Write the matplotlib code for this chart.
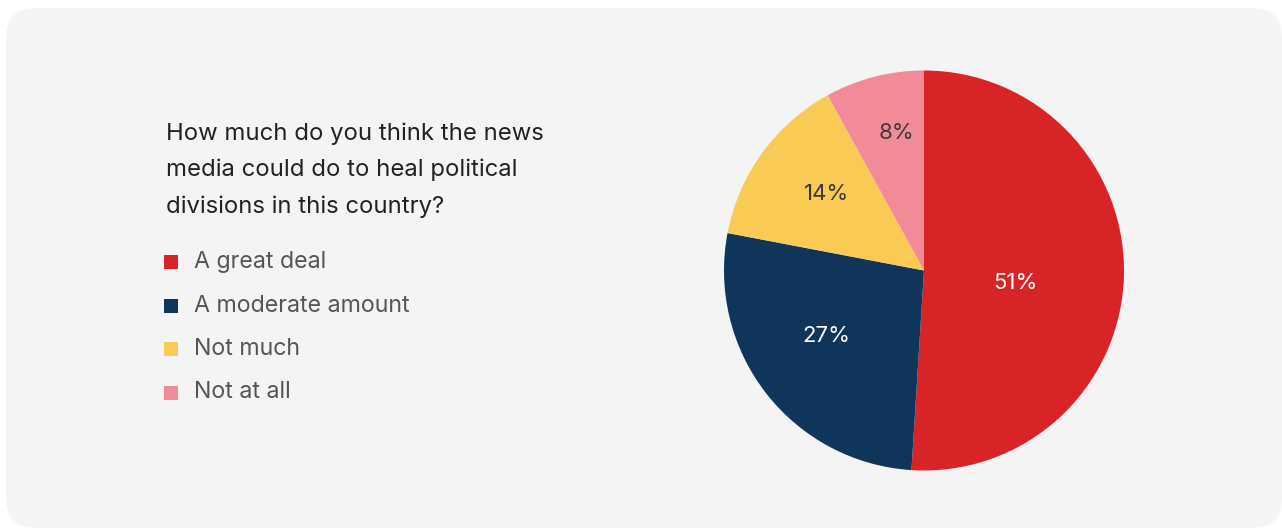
import numpy as np
import matplotlib.pyplot as plt
from matplotlib.patches import FancyBboxPatch, Rectangle

plt.rcParams['font.family'] = ['Inter', 'DejaVu Sans']

# survey answers
question = "How much do you think the news\nmedia could do to heal political\ndivisions in this country?"
answers = ['A great deal', 'A moderate amount', 'Not much', 'Not at all']
shares = [51, 27, 14, 8]
colors = ['#d92427', '#0f355b', '#f9cb55', '#f28b98']
label_colors = ['white', 'white', '#3a3a3a', '#3a3a3a']

W, H = 1282, 528
fig = plt.figure(figsize=(W / 100, H / 100), dpi=100)
fig.patch.set_facecolor('white')

# background panel + text, in pixel coordinates
bg = fig.add_axes([0, 0, 1, 1])
bg.set_xlim(0, W)
bg.set_ylim(H, 0)
bg.axis('off')
bg.add_patch(FancyBboxPatch((6 + 30, 8 + 30), W - 6 - 60, H - 8 - 60,
                            boxstyle='round,pad=30', fc='#f4f4f4', ec='none'))

bg.text(166, 170, question, fontsize=17.2, color='#222222', va='center',
        ha='left', linespacing=1.8)

for i, (name, c) in enumerate(zip(answers, colors)):
    y = 262 + i * 43.5
    bg.add_patch(Rectangle((164, y - 7), 14, 14, fc=c, ec='none'))
    bg.text(194, y, name, fontsize=16.7, color='#555555', va='center', ha='left')

# pie
cx, cy, r = 924, 270.5, 200
ax = fig.add_axes([(cx - r) / W, (H - cy - r) / H, 2 * r / W, 2 * r / H])
wedges, _ = ax.pie(shares, colors=colors, startangle=90, counterclock=False,
                   radius=1, wedgeprops=dict(linewidth=0))
ax.set_xlim(-1, 1)
ax.set_ylim(-1, 1)
ax.set_aspect('equal')
ax.axis('off')

# percentage labels, placed a bit clockwise of each slice's middle
label_dist = [0.46, 0.59, 0.62, 0.70]
label_shift = [-6, -4, -2, -3]
for w, v, tc, d, s in zip(wedges, shares, label_colors, label_dist, label_shift):
    mid = np.radians((w.theta1 + w.theta2) / 2 + s)
    ax.text(d * np.cos(mid), d * np.sin(mid), f'{v}%', ha='center', va='center',
            fontsize=16, color=tc)

fig.savefig('out.png', dpi=100, facecolor='white')
